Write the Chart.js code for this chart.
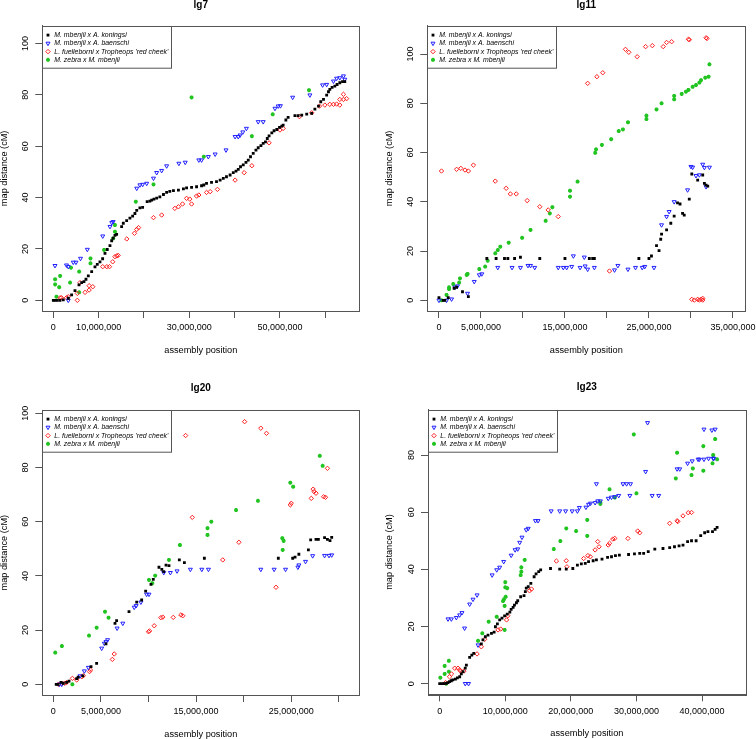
<!DOCTYPE html>
<html>
<head>
<meta charset="utf-8">
<script src="https://cdn.jsdelivr.net/npm/chart.js@4.4.1/dist/chart.umd.min.js"></script>
<style>
html, body { margin: 0; padding: 0; background: #fff; }
#wrap { position: relative; width: 756px; height: 739px; overflow: hidden; }
.panel { position: absolute; }
</style>
</head>
<body>
<div id="wrap">
	<div class="panel" style="left:0;top:0"><canvas id="lg7" width="378" height="370"></canvas></div>
	<div class="panel" style="left:378px;top:0"><canvas id="lg11" width="378" height="370"></canvas></div>
	<div class="panel" style="left:0;top:370px"><canvas id="lg20" width="378" height="369"></canvas></div>
	<div class="panel" style="left:378px;top:370px"><canvas id="lg23" width="378" height="369"></canvas></div>
</div>
<script>
// ===== DATA (x = assembly position in Mb, y = map distance in cM) =====
const seriesNames = ['M. mbenjii x A. koningsi', 'M. mbenjii x A. baenschi', "L. fuelleborni x Tropheops 'red cheek'", 'M. zebra x M. mbenjii'];

const lg7Koningsi = [[0,0],[0.37,0],[0.88,0],[1.47,0],[2.2,0.2],[3.31,0.8],[4.04,2.1],[4.78,3.8],[5.66,6],[6.25,6.9],[6.76,7.3],[7.2,8.2],[7.72,9.5],[8.46,11.2],[9.19,13],[9.7,14],[10.29,15],[10.88,16.2],[11.4,18.3],[11.9,19.8],[12.5,21.3],[12.87,23.2],[13.2,24.2],[13.6,25.3],[13.97,25.7],[15.07,28.7],[15.44,30],[16.18,31],[16.9,32],[17.5,32.8],[18.0,33.8],[18.4,35],[19.1,36],[19.7,36.2],[20.7,38.4],[21.3,38.6],[21.7,39],[22.2,39.4],[22.8,39.8],[23.5,40.3],[24.3,41.2],[25.0,42],[25.7,42.4],[26.5,42.7],[27.6,42.9],[28.7,43.4],[29.4,43.8],[30.5,44],[31.6,44.2],[32.7,44.6],[33.2,44.9],[33.8,45.5],[34.9,45.9],[36.0,46.2],[36.8,46.8],[37.5,47.5],[38.2,48.1],[39.0,48.8],[39.7,49.7],[40.3,50.3],[40.8,51],[41.3,52],[41.9,52.7],[42.5,53.7],[43.0,54.6],[43.5,55.9],[44.1,57.2],[44.7,58.5],[45.2,59.4],[45.8,60.2],[46.3,61.1],[46.8,61.7],[47.2,63],[47.6,64],[48.2,65.2],[48.7,66],[49.3,66.5],[49.9,67.3],[50.4,67.8],[50.7,68.2],[51.3,70.2],[51.8,71.2],[53.3,71.9],[54.0,71.9],[54.8,72.1],[55.9,72.5],[57.0,72.8],[57.7,74.4],[58.5,75.6],[59.0,77.3],[59.6,78.2],[60.3,79.9],[60.7,81.2],[61.0,82.1],[61.5,82.9],[62.1,83.4],[62.6,84],[63.2,84.7],[63.8,85.1],[64.3,85.1]];
const lg7Baenschi = [[0.37,13.5],[2.9,13.7],[3.3,13.1],[3.3,0],[4.4,14.8],[5.0,14.8],[6.0,16.3],[7.5,19.8],[10.9,25],[12.5,28.7],[12.9,30.2],[13.2,30.6],[18.4,43.6],[19.1,44.9],[19.7,45.1],[20.6,45.5],[22.1,47.5],[22.8,49.7],[23.9,50.5],[25.0,52.3],[27.7,53.3],[29.1,53.7],[32.1,54.6],[32.7,54.6],[34.2,55.9],[35.7,56.9],[38.1,58.5],[40.1,63.7],[40.8,63.7],[41.2,64.3],[41.8,65.5],[42.6,66.9],[45.2,69.5],[46.3,69.5],[48.9,74.7],[49.6,75.6],[50.1,75.7],[52.8,79],[56.6,79.9],[59.4,83.8],[60.3,84],[61.8,85.3],[62.5,86.4],[63.2,86.6],[64.0,87.3],[64.3,86]];
const lg7RedCheek = [[1.5,1],[1.8,1],[2.9,1],[3.3,1.4],[5.3,0],[5.3,2.7],[5.9,6.9],[7.0,3.1],[7.9,4],[7.9,5.7],[8.7,5.3],[10.9,13.1],[11.8,13.1],[12.4,13.1],[13.1,15],[13.6,17],[14.0,17.3],[14.3,17.5],[16.2,23.9],[17.9,26.1],[18.4,27.6],[18.8,28.3],[22.1,32.2],[23.9,33.2],[26.8,35.8],[27.6,36.4],[28.5,37.5],[29.4,39.7],[30.1,39.4],[30.5,37.5],[31.6,40.6],[32.1,41],[33.8,42],[34.6,42.3],[36.2,43.2],[40.1,46.8],[42.1,49.7],[43.8,52.4],[47.6,61.3],[50.0,66.3],[50.7,66.9],[54.3,71.5],[57.0,73],[58.7,75.6],[59.9,76],[61.0,76.3],[61.8,76.3],[62.5,76.4],[63.2,76],[64.0,78.2],[64.7,78.5],[64.0,80.2],[63.2,78.2]];
const lg7Zebra = [[0.4,6.2],[0.4,8.2],[1.5,9.5],[1.3,5.1],[0.7,1.4],[3.7,6.9],[3.9,12.7],[5.7,11.2],[5.7,3.1],[8.2,16.3],[8.2,14.4],[11.2,19.6],[13.2,24.1],[13.6,26.7],[13.6,29.3],[18.2,38.4],[22.1,45.1],[30.5,79],[33.2,55.9],[43.8,63.9],[48.4,72.4],[56.4,81.8]];

const lg11Koningsi = [[0,1.1],[0.5,0],[0.7,0],[1.1,1.1],[1.8,4.9],[2.1,5.3],[2.8,3.5],[3.5,1.5],[5.7,17],[6.8,17],[7.8,17],[8.2,17],[9.0,17],[9.7,17.5],[12,17],[15,17],[17.9,17],[18.3,17],[18.5,17],[23.8,17],[25,17],[25.3,18],[25.9,22.2],[26.2,20.2],[26.4,24.8],[26.5,26.9],[27.1,28.6],[27.6,31.3],[28,34.2],[28.4,39.6],[28.7,39.1],[29,35.3],[29.2,34.6],[29.8,41.1],[30.1,51.3],[30.8,48.8],[31.4,50.9],[31.6,47.5],[31.8,46.8],[32,46.4]];
const lg11Baenschi = [[0,0],[0.9,0],[1.5,0.5],[1.9,5.3],[2.2,5.8],[3.4,2.8],[4.2,7.6],[4.8,10.3],[5.1,10.7],[7.0,13.3],[8.7,13.3],[9.7,13.3],[10.6,14.1],[10.9,14.1],[11.4,13.3],[14.2,13.3],[14.8,13.3],[15.2,13.3],[15.8,13.7],[16,18],[16.8,13.3],[17.3,17.5],[17.4,13.9],[17.7,12.6],[18.5,13.3],[20.9,12.3],[21.3,14.1],[22.5,12.6],[23.4,13.3],[24.2,13.3],[24.5,13.7],[25.6,13.3],[26.5,30.6],[27.1,34],[27.4,36],[28,40],[29.6,44.8],[30,54.3],[30.2,54],[30.6,50.6],[31,50.9],[31.4,55.2],[31.6,53.9],[31.8,46.1],[32.2,54]];
const lg11RedCheek = [[0.3,52.5],[2.1,53.2],[2.6,53.6],[3.1,52.9],[3.5,52.5],[4.1,54.9],[6.7,48.4],[8.0,45.5],[8.5,43.2],[9.2,43.2],[10.5,40.5],[12,38],[13,36.7],[14.2,34],[20.3,11.9],[17.7,88.1],[18.8,90.8],[19.5,92.4],[22.2,101.9],[22.6,100.7],[23.6,98.9],[24.6,103],[25.4,103.4],[26.7,103],[27.1,104.7],[27.7,105],[29.7,106],[29.8,105.8],[31.8,106.6],[31.9,106.3],[30.1,0.4],[30.4,0.1],[30.8,0.4],[31,0.1],[31.2,0.4],[31.4,0.8],[31.4,0.1]];
const lg11Zebra = [[0.3,0],[0.9,2.2],[1.2,5.3],[1.2,4.6],[1.7,6.6],[2.5,8.9],[2.4,7.2],[3.3,10.3],[3.4,10.7],[4.8,12.7],[5.5,13.7],[5.8,16.1],[6.7,19.1],[7.0,20.4],[7.3,21.8],[8.3,23.4],[9.9,25.4],[10.9,28.6],[12.7,32.3],[13.2,35.3],[13.5,37.8],[15.6,42.1],[15.6,44.5],[16.5,48.2],[18.6,59.9],[18.7,61.3],[19.4,63.1],[20.5,65.4],[21.4,68.7],[21.9,69.4],[22.5,72.3],[24.7,73.6],[24.7,75],[25.9,77.5],[26.5,80],[28,81.6],[28,83],[28.9,83.8],[29.4,84.7],[29.7,85.4],[30.2,86.7],[30.6,87.4],[31,88.4],[31.2,89.4],[31.7,90.4],[32.1,90.8],[32.2,95.8]];

const lg20Koningsi = [[0.3,0],[0.5,0],[0.8,0.7],[1.05,0.4],[1.4,0.7],[1.65,1.2],[2.45,2.1],[2.6,2.6],[3.1,3.1],[3.96,6.5],[4.55,7.7],[5.53,14.9],[6.48,22.5],[6.65,23.5],[7.95,26.8],[8.76,30.3],[9.28,31.1],[9.7,34.4],[10.26,36.9],[10.5,38.7],[11.1,43.2],[11.4,42.4],[11.6,41.6],[11.84,44],[12.15,43.8],[13.24,45.9],[13.77,44.9],[15.87,46.5],[23.64,46.5],[25.15,46.5],[25.4,46.9],[25.8,48],[26.8,49.6],[27.04,53.3],[27.6,53.5],[27.85,53.5],[28.5,54.1],[28.8,53.5],[29.07,53],[29.25,54.2]];
const lg20Baenschi = [[0.63,0],[0.88,0],[2.8,3.1],[3.26,4.9],[3.68,6.2],[5.08,13.3],[5.36,15.1],[5.53,15.7],[5.7,16.4],[6.7,20.7],[7.3,22.5],[8.5,28.4],[8.7,29],[9.2,30.3],[9.8,33.2],[10.05,33.2],[11.6,41.2],[12.3,41.2],[13,41.8],[14.4,42.4],[15.6,42.4],[16.3,42.4],[21.8,42.4],[23.2,42.4],[24.4,42.4],[25.7,43.2],[25.8,44],[26.5,45.3],[27.25,47.4],[28.5,47.5],[28.97,47.5],[29.25,47.7]];
const lg20RedCheek = [[0.53,0],[0.88,0.4],[1.2,0.4],[1.4,0.7],[2.0,2.2],[2.45,1.6],[3,2.8],[3.15,3.2],[3.8,4.7],[3.9,5.3],[6.2,9.2],[6.4,11.2],[10,19.4],[10.1,19.7],[10.6,21.6],[11.3,24.6],[11.5,24.8],[12.6,24.7],[13.4,25.6],[13.6,25.3],[13.9,91.8],[14.6,61.6],[17.8,45.9],[19.5,52.4],[20.1,96.9],[21.8,94.5],[22.4,92.6],[23.4,35.8],[24.9,66.2],[25,66.8],[27.1,68.6],[27.3,72],[27.4,71.1],[27.6,70.5],[28.4,69.2],[28.6,69],[28.8,79.7]];
const lg20Zebra = [[0.2,11.7],[0.9,14.1],[2.0,0],[3.75,18],[4.55,20.9],[5.43,26.8],[5.8,24.6],[10.05,38.5],[10.4,37.3],[10.7,40.1],[12.15,45.9],[13.3,51.4],[16.2,57.6],[16.2,55.1],[16.6,60],[19.2,64.3],[21.5,67.7],[24.06,53.9],[24.1,49.6],[24.2,52.9],[24.9,74.4],[25.2,72.9],[28,84.3],[28.3,80.6]];

const lg23Koningsi = [[0,0],[0.36,0],[0.66,0],[1.0,0.1],[1.27,0.35],[1.5,0.7],[1.78,1],[2.0,1.3],[2.4,1.6],[2.7,2],[3.05,2.4],[3.3,3.4],[3.56,4.2],[3.9,5.4],[4.07,6.5],[4.57,9.2],[4.9,10],[5.2,10.6],[6.35,13.9],[6.6,15.3],[6.96,16.4],[7.37,17],[7.9,17.6],[8.3,18],[8.5,19.9],[8.8,20.9],[9.15,22.3],[9.5,22.9],[9.9,23.7],[10.3,24.3],[10.7,25],[10.9,26],[11.2,26.7],[11.4,27.5],[11.7,28.3],[11.9,29],[12.35,30.4],[12.86,30.8],[13.06,32.2],[13.2,33.4],[13.5,33.9],[13.9,35.1],[14.4,37.4],[14.7,38.4],[15.1,39.2],[15.4,39.8],[16.9,40.3],[18.3,40.1],[19.3,40.1],[20.3,40.3],[21,41.5],[21.6,41.9],[22.2,42.1],[22.7,42.7],[23.4,43],[23.9,43.3],[24.75,43.6],[25.6,44.2],[26.2,44.4],[26.8,44.8],[27.4,45],[28.8,45.2],[29.7,45.4],[30.5,45.6],[31.1,45.6],[31.8,46.2],[32.8,47.1],[34.05,47.3],[35.07,47.6],[35.8,47.9],[36.5,48.2],[37.1,48.5],[37.8,49.7],[38.4,50],[39.1,50],[39.8,51.8],[40.4,52.8],[40.9,53.2],[41.6,53.2],[42,54],[42.3,54.7]];
const lg23Baenschi = [[1.27,22.6],[1.78,22.6],[2.54,23.1],[3.05,24],[3.4,24.8],[3.8,19.4],[3.9,0],[4.4,0],[4.57,27.8],[5.08,29.5],[5.7,31],[5.85,13.5],[8,38],[8.7,39.8],[9.15,40.7],[9.76,42.7],[10.9,44.9],[11.5,46.8],[11.9,47.1],[12.2,49.4],[12.55,51.2],[13.2,53.8],[13.5,54.3],[14.6,57],[15,57],[17,60.4],[18.3,60.4],[19.2,60.4],[20.2,60.4],[21,60.4],[21.3,61.6],[22.3,61.7],[22.7,62.7],[23,63.1],[23.7,63.3],[23.9,69.9],[24.1,63.9],[24.5,63.9],[25.7,64.8],[26.2,65.2],[26.7,65.4],[27.3,65.8],[27.95,69.9],[28.5,69.9],[29.1,69.9],[29,65.8],[31.4,74.2],[31.7,91.3],[32.4,65.8],[33.4,65.8],[36.2,75.1],[36.6,75.1],[37.8,77.1],[38.5,77.9],[39.4,78.5],[39.6,78.5],[40.3,89],[40.3,78.5],[41,78.8],[41.5,88.7],[42,89],[41.7,78.8],[41.8,78.8]];
const lg23RedCheek = [[0.9,0.35],[1.5,2.4],[1.8,3.4],[2.3,5.4],[2.8,5.4],[3.05,4.8],[3.2,4.4],[3.7,4.4],[5.7,10.4],[6.35,12.9],[6.86,15.5],[8.9,18.8],[9.3,19.1],[10.2,22.3],[10.4,23.8],[13.7,32.5],[14,33.1],[17.8,42.9],[19.3,43],[19.4,40.9],[21.96,43.8],[22.6,44.8],[22.97,44.4],[23.7,46.8],[24.1,49.7],[24.3,47.9],[25.7,48.5],[25.9,49.1],[26.4,50.6],[26.7,50.8],[28.7,50.8],[30.2,53.4],[30.5,52.8],[35.07,56.1],[36.2,57],[36.3,56.7],[37.1,58.7],[37.9,59.8],[38.4,59.9]];
const lg23Zebra = [[0.1,2.1],[0.76,6.2],[0.76,3.4],[1.0,0],[1.4,4.2],[1.4,8],[5.85,15],[6.5,17.6],[7.47,21.7],[8.7,23.4],[9.66,28.9],[9.8,29.5],[9.9,27.2],[9.9,18.8],[10,35.5],[10,33.7],[10.06,30.4],[10.3,33.4],[12.35,38],[12.45,39.2],[12.45,40.7],[12.96,43.3],[17.4,47.1],[18.4,49.9],[19.3,54.3],[20.8,53.4],[22.5,57.3],[22.5,51.7],[24.5,63.4],[24.5,62.9],[25.9,68],[26.7,65.1],[29.6,87.2],[30,66.6],[36,71.8],[36.2,80.8],[38.4,73],[38.6,75.3],[40.2,83.1],[40.2,74.5],[41.6,77.1],[41.7,80],[42,85.6],[42.3,78.5]];

// ===== TICKS =====
const lg7XTicks = [0, 10, 20, 30, 40, 50, 60];
const lg7XLabels = ['0', '10,000,000', '', '30,000,000', '', '50,000,000', ''];
const lg11XTicks = [0, 5, 10, 15, 20, 25, 30, 35];
const lg11XLabels = ['0', '5,000,000', '', '15,000,000', '', '25,000,000', '', '35,000,000'];
const lg20XTicks = [0, 5, 10, 15, 20, 25, 30];
const lg20XLabels = ['0', '5,000,000', '', '15,000,000', '', '25,000,000', ''];
const lg23XTicks = [0, 10, 20, 30, 40];
const lg23XLabels = ['0', '10,000,000', '20,000,000', '30,000,000', '40,000,000'];
const yTicks100 = [0, 20, 40, 60, 80, 100];
const yTicks80 = [0, 20, 40, 60, 80];

// ===== STYLE =====
const FONT = "'Liberation Sans', Arial, Helvetica, sans-serif";
const AXIS_COLOR = '#555';
const TICK_LEN = 7;
const seriesStyles = [
	{ pointStyle: 'rect', radius: 2, rotation: 0, fill: '#000', stroke: '#000', width: 0 },
	{ pointStyle: 'triangle', radius: 2.3, rotation: 180, fill: 'rgba(0,0,0,0)', stroke: '#2020ff', width: 1 },
	{ pointStyle: 'rectRot', radius: 2.2, rotation: 0, fill: 'rgba(0,0,0,0)', stroke: '#ff2020', width: 1 },
	{ pointStyle: 'star', radius: 2.0, rotation: 0, fill: '#22c422', stroke: '#22c422', width: 1.3 }
];

Chart.defaults.font.family = FONT;
Chart.defaults.color = '#000';

function labelWidth(text, size) {
	const c = document.createElement('canvas').getContext('2d');
	c.font = size + 'px ' + FONT;
	return c.measureText(text).width;
}

// plot frame + legend drawn inside the chart area
const frameLegend = {
	id: 'frameLegend',
	afterDatasetsDraw(chart) {
		const { ctx, chartArea: a } = chart;
		ctx.save();
		ctx.strokeStyle = AXIS_COLOR;
		ctx.lineWidth = 1;
		ctx.strokeRect(Math.round(a.left) + 0.5, Math.round(a.top) + 0.5, Math.round(a.right - a.left), Math.round(a.bottom - a.top));

		// legend box
		const x0 = Math.round(a.left) + 0.5, y0 = Math.round(a.top) + 0.5;
		ctx.fillStyle = '#fff';
		ctx.fillRect(x0, y0, 129, 41.7);
		ctx.strokeRect(x0, y0, 129, 41.7);
		chart.data.datasets.forEach((ds, i) => {
			const st = seriesStyles[i];
			const cy = y0 + 8.6 + i * 8.25;
			ctx.fillStyle = st.fill;
			ctx.strokeStyle = st.stroke;
			ctx.lineWidth = st.width;
			Chart.helpers.drawPoint(ctx, { pointStyle: st.pointStyle, rotation: st.rotation, radius: st.radius, borderWidth: st.width }, x0 + 5.5, cy);
			ctx.fillStyle = '#000';
			ctx.font = 'italic 6.9px ' + FONT;
			ctx.textBaseline = 'middle';
			ctx.textAlign = 'left';
			ctx.fillText(ds.label, x0 + 11.8, cy);
		});
		ctx.restore();
	}
};

function makePanel(cfg) {
	const canvas = document.getElementById(cfg.id);
	const W = canvas.width, H = canvas.height;
	const a = cfg.area;
	const widest = Math.max(...cfg.yTicks.map(v => labelWidth(String(v), 9)));
	const yPad = 16.8 - TICK_LEN - widest / 2;

	const datasets = cfg.series.map((pts, i) => {
		const st = seriesStyles[i];
		return {
			label: seriesNames[i],
			data: pts.map(p => ({ x: p[0], y: p[1] })),
			pointStyle: st.pointStyle,
			pointRadius: st.radius,
			pointHoverRadius: st.radius,
			pointRotation: st.rotation,
			pointBackgroundColor: st.fill,
			pointBorderColor: st.stroke,
			pointBorderWidth: st.width,
			backgroundColor: st.fill,
			borderColor: st.stroke
		};
	});

	new Chart(canvas, {
		type: 'scatter',
		data: { datasets },
		plugins: [frameLegend],
		options: {
			responsive: false,
			animation: false,
			events: [],
			layout: { padding: { left: cfg.padL, right: W - a.R, top: 0, bottom: 0 } },
			plugins: {
				legend: { display: false },
				tooltip: { enabled: false },
				title: {
					display: true,
					text: cfg.title,
					fullSize: false,
					color: '#000',
					font: { size: 10, weight: 'bold', lineHeight: 1 },
					padding: { top: cfg.titleY - 5, bottom: a.T - (cfg.titleY - 5) - 10 }
				}
			},
			scales: {
				x: {
					type: 'linear',
					min: cfg.xMin, max: cfg.xMax,
					afterBuildTicks: s => { s.ticks = cfg.xTicks.map(v => ({ value: v })); },
					afterFit: s => { s.height = H - a.B; s.paddingLeft = 0; s.paddingRight = 0; },
					ticks: {
						autoSkip: false, maxRotation: 0, minRotation: 0,
						padding: 4.6, color: '#000',
						font: { size: 9 },
						callback: (v, i) => cfg.xLabels[i]
					},
					grid: { drawOnChartArea: false, drawTicks: true, tickLength: TICK_LEN, color: AXIS_COLOR },
					border: { display: true, color: AXIS_COLOR },
					title: {
						display: true, text: 'assembly position', color: '#000',
						font: { size: 9.2, lineHeight: 1 },
						padding: { top: 0, bottom: cfg.xTitleBottom }
					}
				},
				y: {
					type: 'linear',
					min: cfg.yMin, max: cfg.yMax,
					afterBuildTicks: s => { s.ticks = cfg.yTicks.map(v => ({ value: v })); },
					afterFit: s => { s.width = a.L - cfg.padL; s.paddingTop = 0; s.paddingBottom = 0; },
					ticks: {
						autoSkip: false, minRotation: 90, maxRotation: 90,
						crossAlign: 'center', padding: yPad, color: '#000',
						font: { size: 9 },
						callback: v => String(v)
					},
					grid: { drawOnChartArea: false, drawTicks: true, tickLength: TICK_LEN, color: AXIS_COLOR },
					border: { display: true, color: AXIS_COLOR },
					title: {
						display: true, text: 'map distance (cM)', color: '#000',
						font: { size: 9.2, lineHeight: 1 },
						padding: { top: 0, bottom: 0 }
					}
				}
			}
		}
	});
}

// ===== PANELS =====
makePanel({
	id: 'lg7', title: 'lg7',
	series: [lg7Koningsi, lg7Baenschi, lg7RedCheek, lg7Zebra],
	xMin: -2.43, xMax: 67.5, yMin: -4.15, yMax: 106.9,
	xTicks: lg7XTicks, xLabels: lg7XLabels, yTicks: yTicks100,
	area: { L: 42.3, R: 359.3, T: 25.7, B: 311 },
	padL: 0, titleY: 5.5, xTitleBottom: 15.4
});
makePanel({
	id: 'lg11', title: 'lg11',
	series: [lg11Koningsi, lg11Baenschi, lg11RedCheek, lg11Zebra],
	xMin: -1.39, xMax: 36.47, yMin: -4.33, yMax: 111.5,
	xTicks: lg11XTicks, xLabels: lg11XLabels, yTicks: yTicks100,
	area: { L: 49.3, R: 367.3, T: 25.7, B: 311 },
	padL: 6.5, titleY: 5.5, xTitleBottom: 15.4
});
makePanel({
	id: 'lg20', title: 'lg20',
	series: [lg20Koningsi, lg20Baenschi, lg20RedCheek, lg20Zebra],
	xMin: -1.16, xMax: 32.15, yMin: -3.94, yMax: 101.1,
	xTicks: lg20XTicks, xLabels: lg20XLabels, yTicks: yTicks100,
	area: { L: 42.3, R: 359.3, T: 40.3, B: 325 },
	padL: 0, titleY: 18.5, xTitleBottom: 0.4
});
makePanel({
	id: 'lg23', title: 'lg23',
	series: [lg23Koningsi, lg23Baenschi, lg23RedCheek, lg23Zebra],
	xMin: -1.78, xMax: 46.66, yMin: -3.73, yMax: 95.86,
	xTicks: lg23XTicks, xLabels: lg23XLabels, yTicks: yTicks80,
	area: { L: 50, R: 367.7, T: 39.7, B: 324.3 },
	padL: 6.5, titleY: 17.4, xTitleBottom: 1.4
});
</script>
</body>
</html>
